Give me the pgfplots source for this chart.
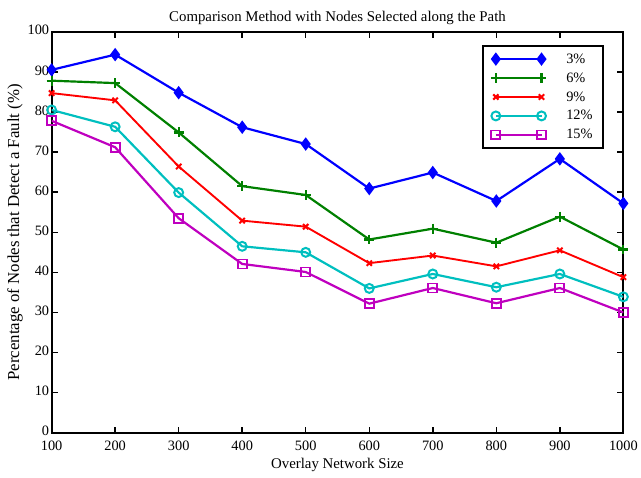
\documentclass[border=0pt]{standalone}
\usepackage{pgfplots}
\pgfplotsset{compat=1.18}
\usepackage{fontspec}
\setmainfont{Liberation Serif}
\definecolor{mblue}{rgb}{0,0,1}
\definecolor{mgreen}{rgb}{0,0.5,0}
\definecolor{mred}{rgb}{1,0,0}
\definecolor{mcyan}{rgb}{0,0.75,0.75}
\definecolor{mmag}{rgb}{0.75,0,0.75}
\begin{document}
\begin{tikzpicture}
\begin{axis}[
  scale only axis, width=576bp, height=404bp,
  xmin=100, xmax=1000, ymin=0, ymax=100,
  xtick={100,200,...,1000}, ytick={0,10,...,100},
  tick align=inside, major tick length=6bp,
  every tick/.style={black, line width=1.5bp},
  axis line style={line width=2.2bp},
  tick label style={font=\fontsize{14.5}{16}\selectfont},
  /pgf/number format/assume math mode=true,
  /pgf/number format/1000 sep={},
  xticklabel style={yshift=-5bp},
  yticklabel style={xshift=1bp, yshift=1.5bp},
  title={Comparison Method with Nodes Selected along the Path},
  title style={font=\fontsize{15}{17}\selectfont, at={(0.5,1)}, anchor=south, yshift=-2bp},
  xlabel={Overlay Network Size},
  ylabel={Percentage of Nodes that Detect a Fault (\%)},
  xlabel style={font=\fontsize{15}{17}\selectfont, yshift=0bp},
  ylabel style={font=\fontsize{17}{19}\selectfont, yshift=-2bp},
  legend style={at={(1,1)}, xshift=-20bp, yshift=-13bp, anchor=north east,
    draw=black, line width=2bp, font=\fontsize{14.5}{16}\selectfont,
    row sep=4bp, inner xsep=8bp, inner ysep=6bp},
  legend cell align=left,
  legend image code/.code={\draw[#1] plot coordinates {(0bp,0bp) (46bp,0bp)};},
  /tikz/every odd column/.append style={column sep=18bp},
  every axis plot/.append style={line width=2.2bp},
]
\addplot[mblue, mark=diamond*, mark size=5bp, mark options={solid}] coordinates {
(100,90.5) (200,94.3) (300,84.8) (400,76.2) (500,72.0) (600,60.9) (700,64.9) (800,57.8) (900,68.3) (1000,57.2)};
\addplot[mgreen, mark=+, mark size=5bp, mark options={line width=2.2bp}] coordinates {
(100,87.8) (200,87.2) (300,74.9) (400,61.5) (500,59.3) (600,48.2) (700,50.9) (800,47.4) (900,53.9) (1000,45.7)};
\addplot[mred, mark=x, mark size=3.8bp, line width=1.9bp, mark options={line width=2bp}] coordinates {
(100,84.7) (200,82.9) (300,66.4) (400,52.9) (500,51.4) (600,42.3) (700,44.2) (800,41.5) (900,45.5) (1000,38.8)};
\addplot[mcyan, mark=o, mark size=4.5bp, mark options={line width=2bp}] coordinates {
(100,80.5) (200,76.3) (300,59.9) (400,46.5) (500,45.0) (600,36.0) (700,39.6) (800,36.3) (900,39.6) (1000,33.9)};
\addplot[mmag, mark=square, mark size=4.5bp, mark options={line width=1.8bp}] coordinates {
(100,77.8) (200,71.2) (300,53.5) (400,42.1) (500,40.1) (600,32.2) (700,36.1) (800,32.3) (900,36.1) (1000,30.0)};
\legend{3\%,6\%,9\%,12\%,15\%}
\end{axis}
\path (-52bp,-45bp) rectangle (589bp,436bp);
\end{tikzpicture}
\end{document}
